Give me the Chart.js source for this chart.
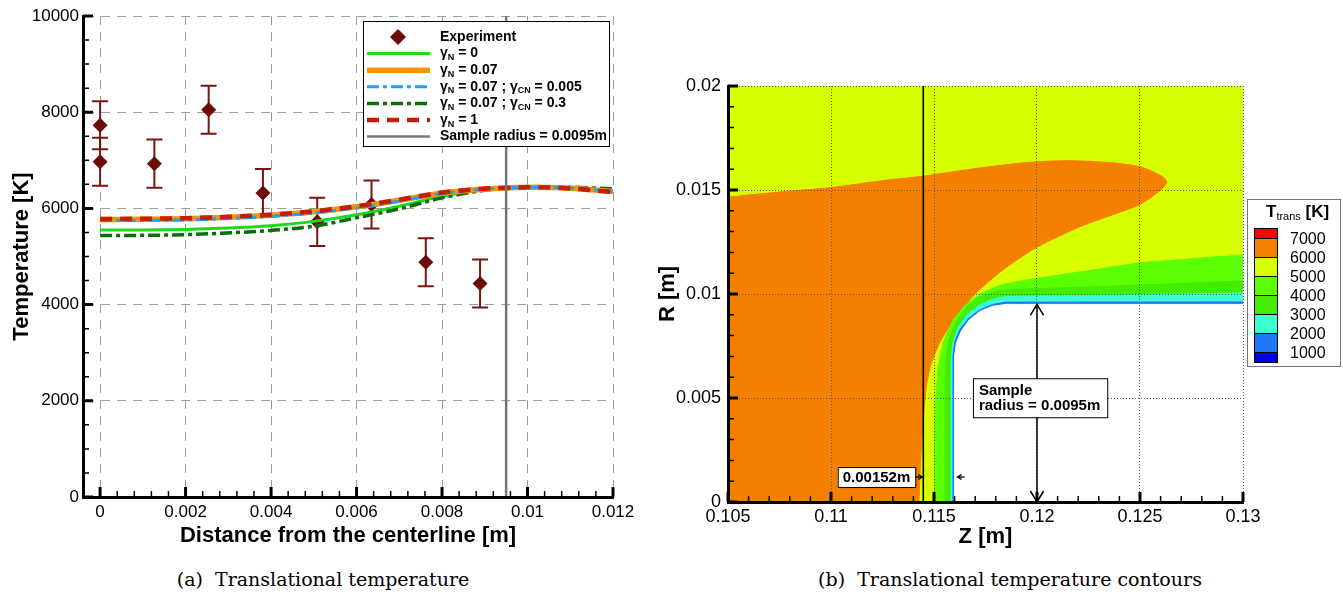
<!DOCTYPE html>
<html>
<head>
<meta charset="utf-8">
<script src="https://cdn.jsdelivr.net/npm/chart.js@4.4.1/dist/chart.umd.min.js"></script>
<style>
  body { margin: 0; width: 1343px; height: 594px; background: #fff; position: relative; overflow: hidden; }
  .box { position: absolute; top: 0; height: 555px; }
  .cap { position: absolute; top: 565px; width: 500px; font-family: 'DejaVu Serif', serif; font-size: 19px; line-height: 28px; text-align: center; }
</style>
</head>
<body>
<div class="box" style="left:0;width:640px"><canvas id="tempChart"></canvas></div>
<div class="box" style="left:650px;width:693px"><canvas id="contourChart"></canvas></div>
<div class="cap" style="left:73px">(a)&nbsp; Translational temperature</div>
<div class="cap" style="left:760px">(b)&nbsp; Translational temperature contours</div>
<script>
const FONT = "'Liberation Sans', Arial, Helvetica, sans-serif";
Chart.defaults.font.family = FONT;
Chart.defaults.color = '#000';

// ---- (a) temperature along the distance from the centerline ----
const distTicks = [0, 0.002, 0.004, 0.006, 0.008, 0.01, 0.012];
const tempTicks = [0, 2000, 4000, 6000, 8000, 10000];
const expX = [0, 0, 0.00127, 0.00254, 0.00381, 0.00508, 0.00635, 0.00762, 0.00889];
const expT = [7730, 6970, 6930, 8050, 6320, 5720, 6080, 4880, 4440];
const expErr = [500, 500, 500, 500, 500, 500, 500, 500, 500];
const simX = [0, 0.001, 0.002, 0.003, 0.004, 0.005, 0.006, 0.007, 0.008, 0.009, 0.0095, 0.01, 0.011, 0.012];
const tGammaN0 = [5550, 5552, 5563, 5590, 5640, 5730, 5867, 6046, 6253, 6385, 6418, 6435, 6425, 6360];
const tGammaN007 = [5770, 5775, 5785, 5815, 5860, 5930, 6033, 6170, 6322, 6405, 6425, 6440, 6420, 6350];
const tGammaCN0005 = [5745, 5750, 5760, 5790, 5835, 5905, 6010, 6150, 6308, 6400, 6422, 6438, 6420, 6350];
const tGammaCN03 = [5435, 5440, 5454, 5490, 5543, 5632, 5805, 5991, 6219, 6376, 6412, 6435, 6440, 6405];
const tGammaN1 = [5780, 5785, 5795, 5825, 5870, 5940, 6045, 6180, 6330, 6410, 6428, 6440, 6415, 6340];
const sampleRadius = 0.0095;
const seriesNames = [
  'Experiment',
  'γ_{N} = 0',
  'γ_{N} = 0.07',
  'γ_{N} = 0.07 ; γ_{CN} = 0.005',
  'γ_{N} = 0.07 ; γ_{CN} = 0.3',
  'γ_{N} = 1',
  'Sample radius = 0.0095m'
];

// ---- (b) contours, [Z, R] in m ----
const zTicks = [0.105, 0.11, 0.115, 0.12, 0.125, 0.13];
const rTicks = [0, 0.005, 0.01, 0.015, 0.02];
const levels = [7000, 6000, 5000, 4000, 3000, 2000, 1000];
const levelColors = ['#ff0000', '#f57f00', '#d8ff00', '#5cff00', '#44ec00', '#3cffd2', '#2078ff', '#0000ee'];
const domain = [[0.105, 0], [0.105, 0.02], [0.13, 0.02], [0.13, 0]];
const iso6000 = [[0.105, 0], [0.105, 0.0146], [0.10505, 0.01466], [0.1075, 0.0149], [0.11, 0.01512], [0.1125, 0.01545], [0.1145, 0.01567],
  [0.117, 0.01603], [0.1195, 0.01632], [0.1215, 0.01641], [0.1235, 0.01632], [0.125, 0.01612], [0.1258, 0.0158],
  [0.1262, 0.01555], [0.1263, 0.01535], [0.126, 0.015], [0.125, 0.0143], [0.1235, 0.01375], [0.1221, 0.01324],
  [0.12, 0.01225], [0.1184, 0.0112], [0.117, 0.01], [0.116, 0.0088], [0.1153, 0.0077], [0.11485, 0.0066],
  [0.11462, 0.0055], [0.11448, 0.004], [0.11435, 0.002], [0.11427, 0]];
const iso5000 = [[0.115, 0], [0.11502, 0.003], [0.11508, 0.005], [0.1152, 0.0065], [0.11545, 0.0077], [0.1159, 0.0087],
  [0.1165, 0.00945], [0.1173, 0.01005], [0.1183, 0.01045], [0.1195, 0.01068], [0.121, 0.0109], [0.123, 0.0112],
  [0.125, 0.0115], [0.1275, 0.0117], [0.13, 0.01188], [0.13, 0]];
const iso4000 = [[0.11553, 0], [0.11553, 0.005], [0.11556, 0.0068], [0.11572, 0.0078], [0.11605, 0.00865], [0.11655, 0.00935],
  [0.1172, 0.00985], [0.118, 0.01013], [0.119, 0.01023], [0.122, 0.01032], [0.126, 0.01047], [0.13, 0.01063], [0.13, 0]];
const iso3000 = [[0.11583, 0], [0.11583, 0.0068], [0.11592, 0.00765], [0.11617, 0.0084], [0.1166, 0.009], [0.11716, 0.00945],
  [0.11783, 0.00975], [0.1185, 0.00988], [0.125, 0.00996], [0.13, 0.01005], [0.13, 0]];
const iso2000 = [[0.11592, 0], [0.11592, 0.007], [0.116, 0.00768], [0.11625, 0.0083], [0.11667, 0.00883], [0.11722, 0.00924],
  [0.11785, 0.0095], [0.1185, 0.00961], [0.13, 0.00962], [0.13, 0]];
const sampleBody = [[0.116, 0], [0.116, 0.007], [0.11609, 0.00765], [0.11634, 0.00825], [0.11673, 0.00877], [0.11725, 0.00917],
  [0.11785, 0.00941], [0.1185, 0.0095], [0.13, 0.0095], [0.13, 0]];
const shockZ = 0.11448;
const bodyZ = 0.116;

const fmt = v => String(Number(Number(v).toFixed(5)));

function drawRich(ctx, text, x, y, size, subWeight) {
  const parts = text.split(/_\{([^}]*)\}/);
  parts.forEach((t, i) => {
    const sub = i % 2 === 1;
    ctx.font = sub ? `${subWeight} ${Math.round(size * 0.65)}px ${FONT}` : `bold ${size}px ${FONT}`;
    ctx.fillText(t, x, sub ? y + size * 0.3 : y);
    x += ctx.measureText(t).width;
  });
  return x;
}

function chevron(ctx, x, y, dx, dy, w) {
  // open arrow head with tip at x,y pointing in direction dx,dy
  ctx.beginPath();
  ctx.moveTo(x - dx * w + dy * w * 0.6, y - dy * w + dx * w * 0.6);
  ctx.lineTo(x, y);
  ctx.lineTo(x - dx * w - dy * w * 0.6, y - dy * w - dx * w * 0.6);
  ctx.stroke();
}

// inward tick marks, Tecplot style
const inwardTicks = {
  id: 'inwardTicks',
  afterDraw(chart, args, o) {
    const {ctx, chartArea: a} = chart;
    const mark = (scale, step, len, w) => {
      ctx.lineWidth = w;
      ctx.beginPath();
      for (let k = Math.ceil(scale.min / step - 1e-6); k * step <= scale.max + step * 1e-6; k++) {
        const p = scale.getPixelForValue(k * step);
        if (scale.axis === 'x') { ctx.moveTo(p, a.bottom); ctx.lineTo(p, a.bottom - len); }
        else { ctx.moveTo(a.left, p); ctx.lineTo(a.left + len, p); }
      }
      ctx.stroke();
    };
    ctx.save();
    ctx.strokeStyle = '#000';
    mark(chart.scales.x, o.xMinor, 6, 1.5);
    mark(chart.scales.x, o.xMajor, 10, 3);
    mark(chart.scales.y, o.yMinor, 6, 1.5);
    mark(chart.scales.y, o.yMajor, 10, 3);
    ctx.restore();
  }
};

const errorBars = {
  id: 'errorBars',
  beforeDatasetsDraw(chart) {
    const {ctx, scales: {x, y}} = chart;
    ctx.save();
    ctx.strokeStyle = '#761712';
    ctx.lineWidth = 2;
    expX.forEach((v, i) => {
      const px = x.getPixelForValue(v);
      const top = y.getPixelForValue(expT[i] + expErr[i]);
      const bot = y.getPixelForValue(expT[i] - expErr[i]);
      ctx.beginPath();
      ctx.moveTo(px, top); ctx.lineTo(px, bot);
      ctx.moveTo(px - 8, top); ctx.lineTo(px + 8, top);
      ctx.moveTo(px - 8, bot); ctx.lineTo(px + 8, bot);
      ctx.stroke();
    });
    ctx.restore();
  }
};

const boxLegend = {
  id: 'boxLegend',
  afterDraw(chart) {
    const ctx = chart.ctx;
    const left = 363, top = 21, w = 246, h = 125, row0 = 37, rowH = 16.6;
    ctx.save();
    ctx.fillStyle = '#fff';
    ctx.fillRect(left, top, w, h);
    ctx.strokeStyle = '#000';
    ctx.lineWidth = 1;
    ctx.strokeRect(left + 0.5, top + 0.5, w, h);
    chart.data.datasets.forEach((ds, i) => {
      const y = row0 + i * rowH;
      if (ds.pointStyle === 'rectRot') {
        ctx.fillStyle = ds.backgroundColor;
        ctx.beginPath();
        ctx.moveTo(398, y - 8); ctx.lineTo(406, y); ctx.lineTo(398, y + 8); ctx.lineTo(390, y);
        ctx.closePath(); ctx.fill();
      } else {
        ctx.strokeStyle = ds.borderColor;
        ctx.lineWidth = ds.borderWidth;
        ctx.setLineDash(ds.borderDash || []);
        ctx.beginPath(); ctx.moveTo(367, y); ctx.lineTo(430, y); ctx.stroke();
        ctx.setLineDash([]);
      }
      ctx.fillStyle = '#000';
      ctx.textBaseline = 'middle';
      drawRich(ctx, ds.label, 440, y, 14, 'bold');
    });
    ctx.restore();
  }
};

function simLine(label, values, color, width, dash, order) {
  return {
    label, data: simX.map((x, i) => ({x, y: values[i]})), showLine: true,
    borderColor: color, borderWidth: width, borderDash: dash, pointRadius: 0,
    cubicInterpolationMode: 'monotone', fill: false, order
  };
}

new Chart(document.getElementById('tempChart'), {
  type: 'scatter',
  data: {
    datasets: [
      { label: seriesNames[0], data: expX.map((x, i) => ({x, y: expT[i]})), pointStyle: 'rectRot', pointRadius: 7.5,
        backgroundColor: '#6b0c06', borderColor: '#6b0c06', borderWidth: 0, order: 6 },
      simLine(seriesNames[1], tGammaN0, '#1ed81e', 3, [], 5),
      simLine(seriesNames[2], tGammaN007, '#ff9400', 5.5, [], 3),
      simLine(seriesNames[3], tGammaCN0005, '#19a2ff', 3, [12, 4, 4, 4], 2),
      simLine(seriesNames[4], tGammaCN03, '#0b6e0b', 3.5, [12, 4, 4, 4], 4),
      simLine(seriesNames[5], tGammaN1, '#c41e06', 4.5, [12, 8], 1),
      { label: seriesNames[6], data: [{x: sampleRadius, y: tempTicks[0]}, {x: sampleRadius, y: tempTicks[tempTicks.length - 1]}],
        showLine: true, borderColor: '#777', borderWidth: 2.5, pointRadius: 0, order: 0 }
    ]
  },
  options: {
    maintainAspectRatio: false,
    responsive: true,
    animation: false,
    events: [],
    layout: { padding: { top: 16, right: 27, left: 0, bottom: 0 } },
    plugins: {
      legend: { display: false },
      tooltip: { enabled: false },
      inwardTicks: { xMinor: 0.0004, xMajor: 0.002, yMinor: 500, yMajor: 2000 }
    },
    scales: {
      x: {
        type: 'linear', min: -0.0004, max: 0.012,
        afterBuildTicks: s => { s.ticks = distTicks.map(v => ({value: v})); },
        afterFit: s => { s.height = 58; },
        grid: { color: '#9a9a9a', lineWidth: 1, drawTicks: false },
        border: { color: '#000', width: 3, dash: [9, 7], z: 1 },
        ticks: { font: { size: 17 }, padding: 5, maxRotation: 0, autoSkip: false, callback: fmt },
        title: { display: true, text: 'Distance from the centerline [m]', font: { size: 22, weight: 'bold' }, padding: { top: 0, bottom: 6 } }
      },
      y: {
        type: 'linear', min: 0, max: 10000,
        afterBuildTicks: s => { s.ticks = tempTicks.map(v => ({value: v})); },
        afterFit: s => { s.width = 83; },
        grid: { color: '#9a9a9a', lineWidth: 1, drawTicks: false },
        border: { color: '#000', width: 3, dash: [9, 7], z: 1 },
        ticks: { font: { size: 17 }, padding: 4, callback: fmt },
        title: { display: true, text: 'Temperature [K]', font: { size: 22, weight: 'bold' }, padding: { top: 9, bottom: 0 } }
      }
    }
  },
  plugins: [errorBars, inwardTicks, boxLegend]
});

// ---- (b) ----
const contourExtras = {
  id: 'contourExtras',
  afterDraw(chart) {
    const {ctx, chartArea: a, scales: {x, y}} = chart;
    ctx.save();
    ctx.strokeStyle = '#000';
    ctx.fillStyle = '#000';
    ctx.textBaseline = 'middle';

    // sample radius double arrow
    const ax = x.getPixelForValue(0.12);
    const y0 = y.getPixelForValue(0), y1 = y.getPixelForValue(sampleRadius);
    ctx.lineWidth = 1.5;
    ctx.beginPath(); ctx.moveTo(ax, y0); ctx.lineTo(ax, y1); ctx.stroke();
    chevron(ctx, ax, y1, 0, -1, 11);
    chevron(ctx, ax, y0, 0, 1, 11);

    // sample radius label
    ctx.font = `bold 15px ${FONT}`;
    const bx = x.getPixelForValue(0.11689), by = y.getPixelForValue(0.00595);
    const bw = ctx.measureText('radius = 0.0095m').width + 13;
    ctx.fillStyle = '#fff';
    ctx.fillRect(bx, by, bw, 39);
    ctx.lineWidth = 1;
    ctx.strokeRect(bx + 0.5, by + 0.5, bw, 39);
    ctx.fillStyle = '#000';
    ctx.fillText('Sample', bx + 6, by + 13);
    ctx.fillText('radius = 0.0095m', bx + 6, by + 28);

    // standoff distance label and arrows
    const sy = y.getPixelForValue(0.0012);
    const sx = x.getPixelForValue(shockZ);
    const label = fmt(bodyZ - shockZ) + 'm';
    const sw = ctx.measureText(label).width + 10;
    ctx.fillStyle = '#fff';
    ctx.fillRect(sx - 8 - sw, sy - 10, sw, 20);
    ctx.strokeRect(sx - 8 - sw + 0.5, sy - 10 + 0.5, sw, 20);
    ctx.fillStyle = '#000';
    ctx.fillText(label, sx - 8 - sw + 5, sy + 1);
    ctx.lineWidth = 1.3;
    ctx.beginPath(); ctx.moveTo(sx - 8, sy); ctx.lineTo(sx - 1, sy); ctx.stroke();
    chevron(ctx, sx - 1, sy, 1, 0, 4);
    const fx = x.getPixelForValue(bodyZ);
    ctx.beginPath(); ctx.moveTo(fx + 3, sy); ctx.lineTo(fx + 10, sy); ctx.stroke();
    chevron(ctx, fx + 3, sy, -1, 0, 4);

    // colour legend
    const L = a.right + 4, T = 199;
    ctx.fillStyle = '#fff';
    ctx.fillRect(L, T, 93, 167);
    ctx.strokeStyle = '#777';
    ctx.lineWidth = 1;
    ctx.strokeRect(L + 0.5, T + 0.5, 93, 167);
    ctx.fillStyle = '#000';
    drawRich(ctx, 'T_{trans} [K]', L + 19, T + 13, 17, 'normal');
    const sl = L + 7, sw2 = 23, top = T + 29, rh = 19;
    levelColors.forEach((c, i) => {
      const y0r = i === 0 ? top : top + 10 + (i - 1) * rh;
      const hh = (i === 0 || i === levelColors.length - 1) ? 10 : rh;
      ctx.fillStyle = c;
      ctx.fillRect(sl, y0r, sw2, hh);
      ctx.strokeStyle = '#000';
      ctx.strokeRect(sl + 0.5, y0r + 0.5, sw2, hh);
    });
    ctx.fillStyle = '#000';
    ctx.font = `16px ${FONT}`;
    ctx.textAlign = 'left';
    levels.forEach((lv, i) => ctx.fillText(String(lv), L + 43, top + 10 + i * rh + 2));
    ctx.restore();
  }
};

function region(pts, color, order, tension) {
  return {
    data: pts.map(([x, y]) => ({x, y})), showLine: true, fill: 'shape', tension,
    backgroundColor: color, borderColor: color, borderWidth: 1, pointRadius: 0, order
  };
}

new Chart(document.getElementById('contourChart'), {
  type: 'scatter',
  data: {
    datasets: [
      { data: [{x: shockZ, y: rTicks[0]}, {x: shockZ, y: rTicks[rTicks.length - 1]}], showLine: true,
        borderColor: '#000', borderWidth: 1.6, pointRadius: 0, fill: false, order: 0 },
      region(sampleBody, '#ffffff', 1, 0),
      region(iso2000, levelColors[6], 2, 0),
      region(iso3000, levelColors[5], 3, 0),
      region(iso4000, levelColors[4], 4, 0),
      region(iso5000, levelColors[3], 5, 0),
      region(iso6000, levelColors[1], 6, 0.25),
      region(domain, levelColors[2], 7, 0)
    ]
  },
  options: {
    maintainAspectRatio: false,
    responsive: true,
    animation: false,
    events: [],
    layout: { padding: { top: 86, right: 100, left: 0, bottom: 0 } },
    plugins: {
      legend: { display: false },
      tooltip: { enabled: false },
      inwardTicks: { xMinor: 0.001, xMajor: 0.005, yMinor: 0.001, yMajor: 0.005 }
    },
    scales: {
      x: {
        type: 'linear', min: 0.105, max: 0.13,
        afterBuildTicks: s => { s.ticks = zTicks.map(v => ({value: v})); },
        afterFit: s => { s.height = 53; },
        grid: { color: '#555', lineWidth: 1, drawTicks: false, z: 1 },
        border: { color: '#000', width: 3, dash: [1, 2], z: 2 },
        ticks: { font: { size: 18 }, padding: 4, maxRotation: 0, autoSkip: false, callback: fmt },
        title: { display: true, text: 'Z [m]', font: { size: 22, weight: 'bold' }, padding: { top: 0, bottom: 5 } }
      },
      y: {
        type: 'linear', min: 0, max: 0.02,
        afterBuildTicks: s => { s.ticks = rTicks.map(v => ({value: v})); },
        afterFit: s => { s.width = 78; },
        grid: { color: '#555', lineWidth: 1, drawTicks: false, z: 1 },
        border: { color: '#000', width: 3, dash: [1, 2], z: 2 },
        ticks: { font: { size: 18 }, padding: 7, callback: fmt },
        title: { display: true, text: 'R [m]', font: { size: 22, weight: 'bold' }, padding: { top: 5, bottom: 0 } }
      }
    }
  },
  plugins: [inwardTicks, contourExtras]
});
</script>
</body>
</html>
